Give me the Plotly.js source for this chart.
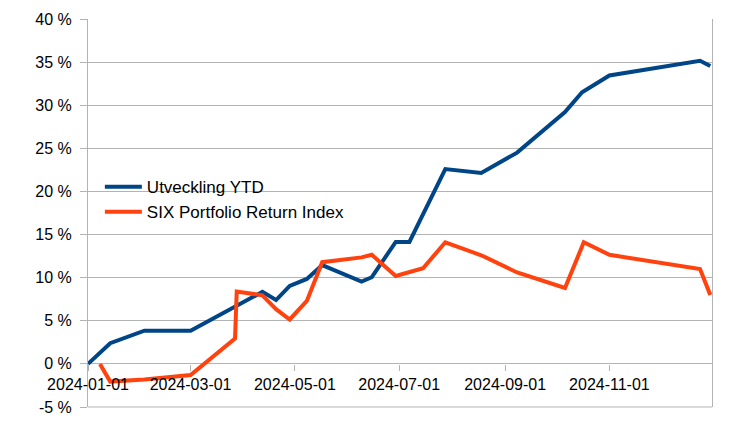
<!DOCTYPE html>
<html>
<head>
<meta charset="utf-8">
<script src="https://cdn.plot.ly/plotly-3.0.1.min.js"></script>
<style>
html,body{margin:0;padding:0;background:#fff;}
#chart{width:756px;height:425px;}
</style>
</head>
<body>
<div id="chart"></div>
<script>
// Series: Utveckling YTD (blue)
const datesBlue = [
  '2024-01-01','2024-01-14','2024-02-03','2024-03-01','2024-04-12','2024-04-20',
  '2024-04-28','2024-05-08','2024-05-17','2024-06-09','2024-06-15','2024-06-29',
  '2024-07-07','2024-07-28','2024-08-18','2024-09-08','2024-10-06','2024-10-16',
  '2024-11-01','2024-12-24','2024-12-30'
];
const valuesBlue = [
  0.0, 2.4, 3.85, 3.85, 8.35, 7.4,
  9.05, 9.85, 11.45, 9.55, 10.05, 14.15,
  14.15, 22.6, 22.15, 24.5, 29.2, 31.5,
  33.45, 35.15, 34.55
];

// Series: SIX Portfolio Return Index (orange)
const datesOrange = [
  '2024-01-08','2024-01-14','2024-02-03','2024-03-01','2024-03-27','2024-03-28',
  '2024-04-12','2024-04-20','2024-04-28','2024-05-08','2024-05-17','2024-06-09',
  '2024-06-15','2024-06-29','2024-07-15','2024-07-28','2024-08-18','2024-09-08',
  '2024-10-06','2024-10-17','2024-11-01','2024-12-24','2024-12-30'
];
const valuesOrange = [
  0.0, -2.05, -1.8, -1.3, 2.95, 8.4,
  7.95, 6.35, 5.15, 7.3, 11.8, 12.35,
  12.65, 10.2, 11.1, 14.1, 12.6, 10.6,
  8.8, 14.1, 12.65, 11.0, 8.0
];

const seriesNames = ['Utveckling YTD', 'SIX Portfolio Return Index'];

// Y tick labels (ASCII hyphen for negatives, as in the original)
const yTickVals = [-5, 0, 5, 10, 15, 20, 25, 30, 35, 40];
const yTickText = yTickVals.map(v => String(v) + ' %');

const FONT = 'Liberation Sans, Arial, sans-serif';
const GRID = '#b3b3b3';

const traces = [
  {
    x: datesBlue, y: valuesBlue, name: seriesNames[0],
    type: 'scatter', mode: 'lines',
    line: {color: '#004586', width: 4}
  },
  {
    x: datesOrange, y: valuesOrange, name: seriesNames[1],
    type: 'scatter', mode: 'lines',
    line: {color: '#ff420e', width: 4}
  }
];

const layout = {
  width: 756, height: 425,
  margin: {l: 88, r: 44, t: 19, b: 18},
  paper_bgcolor: '#ffffff',
  plot_bgcolor: '#ffffff',
  font: {family: FONT, size: 16, color: '#000000'},
  showlegend: true,
  legend: {
    x: 0.019, y: 0.613, xanchor: 'left', yanchor: 'top',
    bgcolor: 'rgba(0,0,0,0)', borderwidth: 0,
    font: {family: FONT, size: 17, color: '#000000'},
    itemwidth: 37
  },
  xaxis: {
    type: 'date',
    range: ['2024-01-01', '2024-12-31'],
    tick0: '2024-01-01', dtick: 'M2',
    tickformat: '%Y-%m-%d',
    showgrid: false,
    zeroline: false,
    showline: false,
    ticks: 'outside', ticklen: 6, tickcolor: GRID, tickwidth: 1,
    anchor: 'free', position: 0.1111,
    tickfont: {family: FONT, size: 16, color: '#000000'},
    fixedrange: true
  },
  yaxis: {
    range: [-5, 40],
    tickmode: 'array', tickvals: yTickVals, ticktext: yTickText,
    showgrid: true, gridcolor: GRID, gridwidth: 1,
    zeroline: false,
    showline: true, linecolor: GRID, linewidth: 1, mirror: true,
    ticks: 'outside', ticklen: 7, tickcolor: GRID, tickwidth: 1,
    ticklabelstandoff: 5,
    tickfont: {family: FONT, size: 16, color: '#000000'},
    fixedrange: true
  },
  shapes: [
    {type: 'line', xref: 'paper', yref: 'paper', x0: 0, x1: 1, y0: 0, y1: 0,
     line: {color: GRID, width: 1}, layer: 'below'}
  ]
};

Plotly.newPlot('chart', traces, layout, {displayModeBar: false, staticPlot: true});
</script>
</body>
</html>
